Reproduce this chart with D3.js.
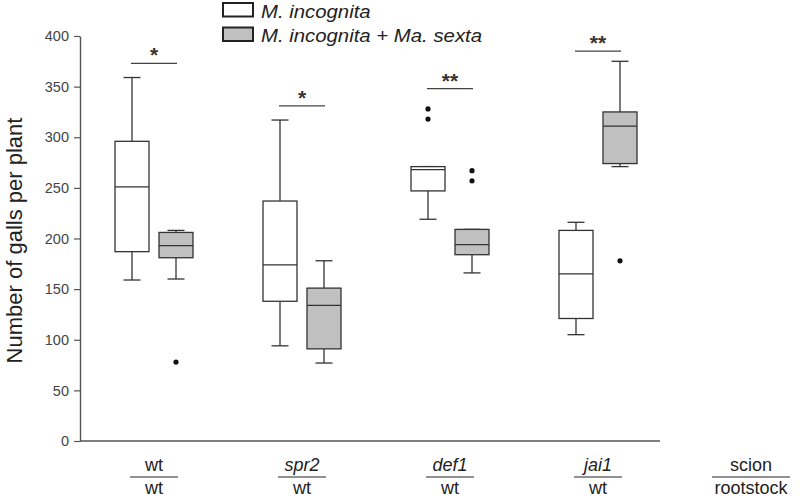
<!DOCTYPE html>
<html>
<head>
<meta charset="utf-8">
<script src="https://cdn.jsdelivr.net/npm/d3@7"></script>
<style>
  html, body { margin: 0; padding: 0; background: #fff; }
  svg { display: block; font-family: "Liberation Sans", Arial, sans-serif; }
</style>
</head>
<body>
<svg id="chart" width="800" height="499"></svg>
<script>
// ---- data ----
const groups = ["wt", "spr2", "def1", "jai1"];
const scions = ["wt", "spr2", "def1", "jai1"];
const rootstocks = ["wt", "wt", "wt", "wt"];
const series = ["M. incognita", "M. incognita + Ma. sexta"];
// [lower whisker, Q1, median, Q3, upper whisker]
const statsMi = [
  [159, 187, 251, 296, 359],
  [94, 138, 174, 237, 317],
  [219, 247, 268, 271, 271],
  [105, 121, 165, 208, 216]
];
const outliersMi = [[], [], [318, 328], []];
const statsMiMs = [
  [160, 181, 193, 206, 208],
  [77, 91, 134, 151, 178],
  [166, 184, 194, 209, 209],
  [271, 274, 311, 325, 375]
];
const outliersMiMs = [[78], [], [257, 267], [178]];
const sigLabels = ["*", "*", "**", "**"];
const sigLevels = [373, 331, 348, 385];
const yTicks = [0, 50, 100, 150, 200, 250, 300, 350, 400];

// ---- layout ----
const svg = d3.select("#chart");
const y = d3.scaleLinear().domain([0, 400]).range([441, 36]);
const xg = d3.scaleBand().domain(groups).range([80, 672]);
const xs = d3.scalePoint().domain(series).range([-22, 22]);
const fills = { "M. incognita": "#ffffff", "M. incognita + Ma. sexta": "#c0c0c0" };
const boxW = 34, capW = 17;
const ink = "#333";

// y axis
const yAxis = d3.axisLeft(y).tickValues(yTicks).tickSize(6).tickSizeOuter(0).tickPadding(5);
const ya = svg.append("g").attr("transform", "translate(80,0)").call(yAxis);
ya.select(".domain").attr("stroke", "#555").attr("stroke-width", 1.4);
ya.selectAll(".tick line").attr("stroke", "#555").attr("stroke-width", 1.2);
ya.selectAll(".tick text").attr("fill", "#444").style("font-size", "14.5px");

// x axis baseline
svg.append("line").attr("x1", 80).attr("x2", 660).attr("y1", y(0)).attr("y2", y(0))
  .attr("stroke", "#555").attr("stroke-width", 1.4);

// y label
svg.append("text")
  .attr("transform", `translate(22,${(y(0) + y(400)) / 2 + 2}) rotate(-90)`)
  .attr("text-anchor", "middle").style("font-size", "22px").attr("fill", "#222")
  .text("Number of galls per plant");

// boxes
const allStats = [statsMi, statsMiMs];
const allOut = [outliersMi, outliersMiMs];
series.forEach((s, si) => {
  groups.forEach((g, gi) => {
    const st = allStats[si][gi];
    const cx = xg(g) + xg.bandwidth() / 2 + xs(s);
    const gg = svg.append("g").attr("stroke", ink).attr("stroke-width", 1.3);
    gg.append("line").attr("x1", cx).attr("x2", cx).attr("y1", y(st[0])).attr("y2", y(st[1]));
    gg.append("line").attr("x1", cx).attr("x2", cx).attr("y1", y(st[3])).attr("y2", y(st[4]));
    gg.append("line").attr("x1", cx - capW / 2).attr("x2", cx + capW / 2).attr("y1", y(st[0])).attr("y2", y(st[0]));
    gg.append("line").attr("x1", cx - capW / 2).attr("x2", cx + capW / 2).attr("y1", y(st[4])).attr("y2", y(st[4]));
    gg.append("rect").attr("x", cx - boxW / 2).attr("width", boxW)
      .attr("y", y(st[3])).attr("height", y(st[1]) - y(st[3]))
      .attr("fill", fills[s]);
    gg.append("line").attr("x1", cx - boxW / 2).attr("x2", cx + boxW / 2).attr("y1", y(st[2])).attr("y2", y(st[2]));
    allOut[si][gi].forEach(v => {
      svg.append("circle").attr("cx", cx).attr("cy", y(v)).attr("r", 2.6).attr("fill", "#111");
    });
  });
});

// significance
groups.forEach((g, gi) => {
  const c = xg(g) + xg.bandwidth() / 2;
  const x1 = c + xs(series[0]) - 1, x2 = c + xs(series[1]) + 1;
  const ly = y(sigLevels[gi]);
  svg.append("line").attr("x1", x1).attr("x2", x2).attr("y1", ly).attr("y2", ly)
    .attr("stroke", "#444").attr("stroke-width", 1.3);
  svg.append("text").attr("x", (x1 + x2) / 2).attr("y", ly - 1)
    .attr("text-anchor", "middle").style("font-size", "21px").style("font-weight", "bold")
    .attr("fill", ink).text(sigLabels[gi]);
});

// x category labels (scion / rootstock)
function fraction(cx, top, bottom, italicTop, halfW) {
  svg.append("text").attr("x", cx).attr("y", 471)
    .attr("text-anchor", "middle").style("font-size", "18px")
    .style("font-style", italicTop ? "italic" : "normal").attr("fill", "#222").text(top);
  svg.append("line").attr("x1", cx - halfW).attr("x2", cx + halfW).attr("y1", 477).attr("y2", 477)
    .attr("stroke", "#222").attr("stroke-width", 1.2);
  svg.append("text").attr("x", cx).attr("y", 494)
    .attr("text-anchor", "middle").style("font-size", "18px").attr("fill", "#222").text(bottom);
}
groups.forEach((g, gi) => {
  fraction(xg(g) + xg.bandwidth() / 2, scions[gi], rootstocks[gi], gi > 0, 24);
});
fraction(751, "scion", "rootstock", false, 39);

// legend
series.forEach((s, si) => {
  const ly = 3 + si * 24.5;
  svg.append("rect").attr("x", 223).attr("y", ly).attr("width", 30).attr("height", 13.5)
    .attr("fill", fills[s]).attr("stroke", "#222").attr("stroke-width", 2);
  svg.append("text").attr("transform", `translate(261,${ly + 14.5}) scale(1.1,1)`)
    .style("font-size", "18.5px").style("font-style", "italic").attr("fill", "#222").text(s);
});
</script>
</body>
</html>
